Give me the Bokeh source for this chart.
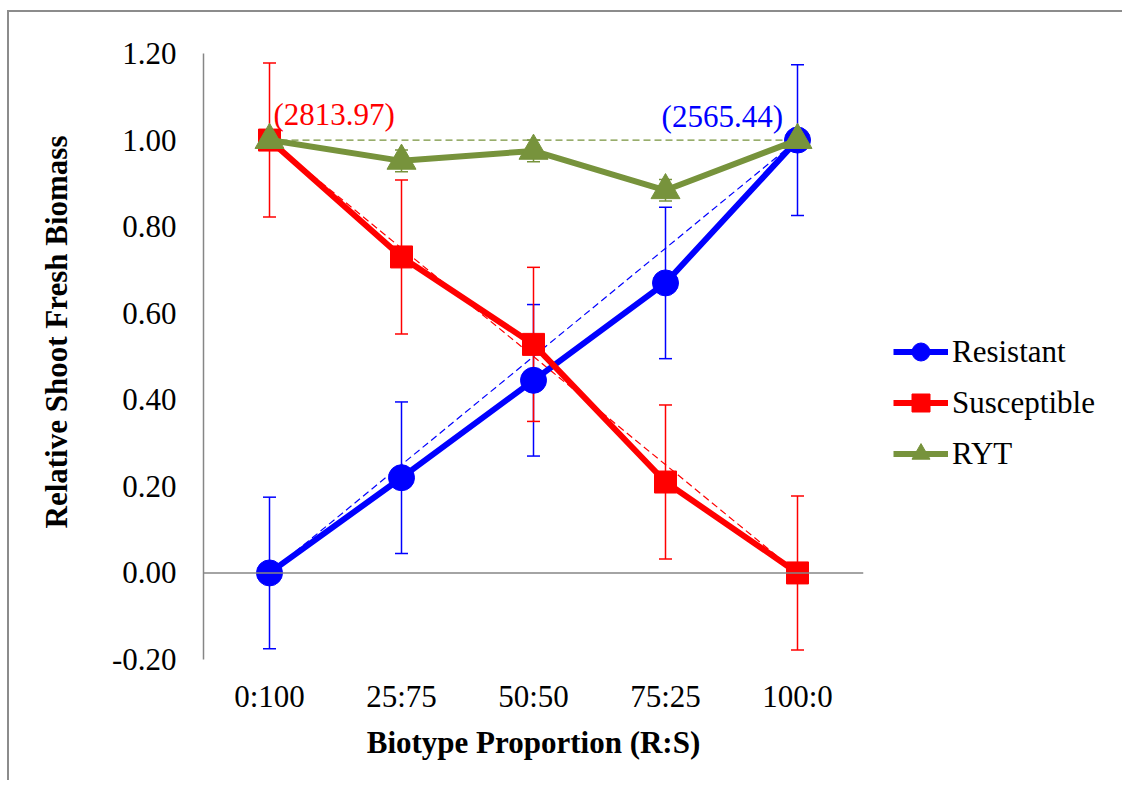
from bokeh.plotting import figure
from bokeh.models import (FactorRange, Range1d, ColumnDataSource, Whisker, TeeHead, Span,
                          Label, Legend, LegendItem, FixedTicker, NumeralTickFormatter, Title)
from bokeh.embed import file_html
from bokeh.resources import INLINE

categories = ["0:100", "25:75", "50:50", "75:25", "100:0"]
resistant = [0.00, 0.22, 0.445, 0.67, 1.00]
resistant_err = [0.175, 0.175, 0.175, 0.175, 0.174]
susceptible = [1.00, 0.73, 0.528, 0.21, 0.00]
susceptible_err = [0.178, 0.178, 0.178, 0.178, 0.178]
ryt = [1.00, 0.952, 0.975, 0.884, 1.00]
ryt_err = [0.0, 0.025, 0.025, 0.025, 0.0]
ref_ends = ["0:100", "100:0"]
ref_resistant = [0.0, 1.0]
ref_susceptible = [1.0, 0.0]
ref_ryt = [1.0, 1.0]
y_ticks = [-0.2, 0.0, 0.2, 0.4, 0.6, 0.8, 1.0, 1.2]
note_s = "(2813.97)"
note_r = "(2565.44)"
y_title = "Relative Shoot Fresh Biomass"
x_title = "Biotype Proportion (R:S)"

BLUE = "#0000FF"
RED = "#FF0000"
GREEN = "#77933C"
GRAY = "#868686"
FONT = "Liberation Serif"

p = figure(x_range=FactorRange(*categories, range_padding=0), y_range=Range1d(-0.2, 1.2),
           frame_width=660, frame_height=606,
           min_border_left=203, min_border_right=251, min_border_top=53, min_border_bottom=121,
           output_backend="svg", toolbar_location=None)
# chart-area border (left and top edges visible), drawn behind a transparent canvas
p.border_fill_alpha = 0
p.background_fill_alpha = 0
p.styles = {"background": ("linear-gradient(#8c8c8c, #8c8c8c) 7px 10px / 2px 100% no-repeat, "
                           "linear-gradient(#8c8c8c, #8c8c8c) 7px 10px / 100% 2px no-repeat, #ffffff")}
p.outline_line_color = None
p.xgrid.grid_line_color = None
p.ygrid.grid_line_color = None

# y axis (line + tick labels)
p.yaxis.ticker = FixedTicker(ticks=y_ticks)
p.yaxis.formatter = NumeralTickFormatter(format="0.00")
p.yaxis.axis_line_color = GRAY
p.yaxis.axis_line_width = 1.5
p.yaxis.major_tick_line_color = None
p.yaxis.minor_tick_line_color = None
p.yaxis.major_label_standoff = 21
p.yaxis.major_label_text_font = FONT
p.yaxis.major_label_text_font_size = "31px"
p.yaxis.major_label_text_color = "black"

# y title as a left-side title, placed a little above the frame centre like the reference
p.add_layout(Title(text=y_title, align="left", offset=131, standoff=70,
                   text_font=FONT, text_font_size="31px", text_font_style="bold",
                   text_color="black"), "left")

p.xaxis.axis_line_color = None
p.xaxis.major_tick_line_color = None
p.xaxis.minor_tick_line_color = None
p.xaxis.major_label_standoff = 13
p.xaxis.major_label_text_font = FONT
p.xaxis.major_label_text_font_size = "31px"
p.xaxis.major_label_text_color = "black"
p.xaxis.axis_label = x_title
p.xaxis.axis_label_standoff = 8
p.xaxis.axis_label_text_font = FONT
p.xaxis.axis_label_text_font_size = "31px"
p.xaxis.axis_label_text_font_style = "bold"
p.xaxis.axis_label_text_color = "black"

p.add_layout(Span(location=0, dimension="width", line_color=GRAY, line_width=1.5))

src = ColumnDataSource(dict(
    x=categories,
    r=resistant, r_lo=[v - e for v, e in zip(resistant, resistant_err)], r_hi=[v + e for v, e in zip(resistant, resistant_err)],
    s=susceptible, s_lo=[v - e for v, e in zip(susceptible, susceptible_err)], s_hi=[v + e for v, e in zip(susceptible, susceptible_err)],
    t=ryt, t_lo=[v - e for v, e in zip(ryt, ryt_err)], t_hi=[v + e for v, e in zip(ryt, ryt_err)],
))

def whisker(lo, hi, color):
    w = Whisker(base="x", lower=lo, upper=hi, source=src, line_color=color, line_width=1.5,
                upper_head=TeeHead(size=13, line_color=color, line_width=1.5),
                lower_head=TeeHead(size=13, line_color=color, line_width=1.5))
    p.add_layout(w)

whisker("r_lo", "r_hi", BLUE)
whisker("s_lo", "s_hi", RED)
whisker("t_lo", "t_hi", GREEN)

# reference dashed lines
p.line(ref_ends, ref_resistant, line_color=BLUE, line_width=1.2, line_dash="7 4")
p.line(ref_ends, ref_susceptible, line_color=RED, line_width=1.2, line_dash="7 4")
p.line(ref_ends, ref_ryt, line_color=GREEN, line_width=1.2, line_dash="7 4")

lr = p.line("x", "r", source=src, line_color=BLUE, line_width=6)
mr = p.scatter("x", "r", source=src, marker="circle", size=26, fill_color=BLUE, line_color=BLUE)
ls = p.line("x", "s", source=src, line_color=RED, line_width=6)
ms = p.scatter("x", "s", source=src, marker="square", size=22, fill_color=RED, line_color=RED)
lt = p.line("x", "t", source=src, line_color=GREEN, line_width=6)
mt = p.scatter("x", "t", source=src, marker="triangle", size=29, fill_color=GREEN, line_color=GREEN)

legend = Legend(items=[LegendItem(label="Resistant", renderers=[lr, mr]),
                       LegendItem(label="Susceptible", renderers=[ls, ms]),
                       LegendItem(label="RYT", renderers=[lt, mt])],
                location=(30, 183), glyph_width=55, glyph_height=45, label_height=45,
                spacing=6, padding=0, margin=0, label_standoff=4,
                label_text_font=FONT, label_text_font_size="31px", label_text_color="black",
                border_line_color=None, background_fill_alpha=0)
p.add_layout(legend, "right")

p.add_layout(Label(x=0.53, y=1.06, text=note_s, text_color=RED, text_font=FONT,
                   text_font_size="31px", text_align="left", text_baseline="middle"))
p.add_layout(Label(x=4.39, y=1.055, text=note_r, text_color=BLUE, text_font=FONT,
                   text_font_size="31px", text_align="right", text_baseline="middle"))

open("out.html", "w").write(file_html(p, INLINE))
